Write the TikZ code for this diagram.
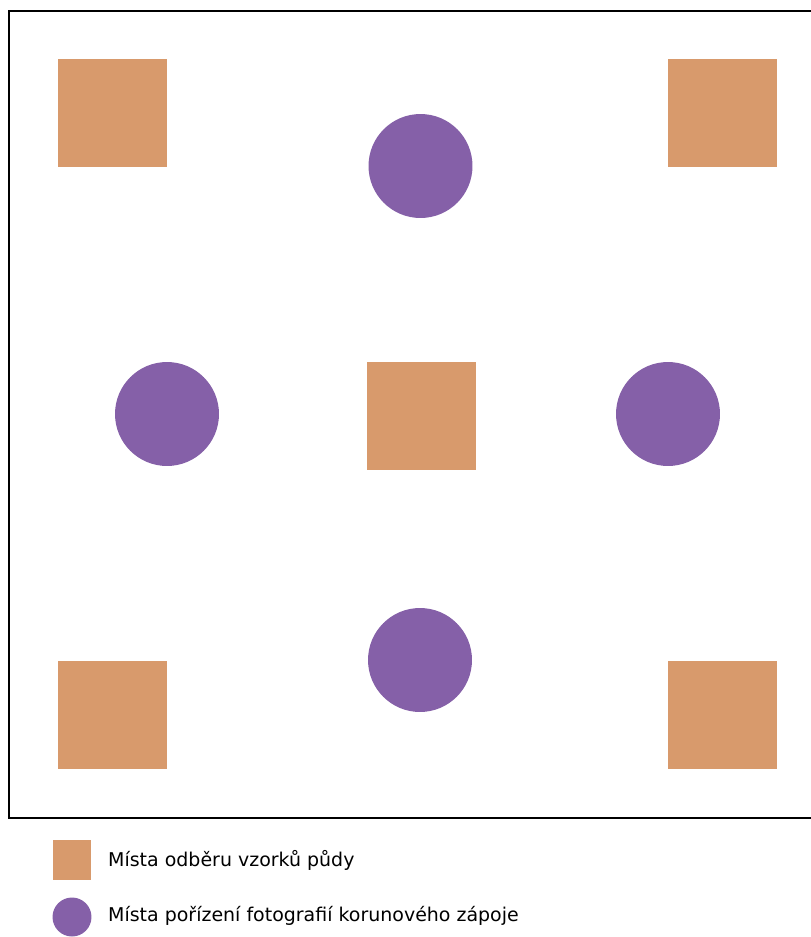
\documentclass[tikz,border=0pt]{standalone}
\usepackage{fontspec}
\setmainfont{DejaVu Sans}
\usepackage{xcolor}
\usetikzlibrary{positioning}

\definecolor{soilorange}{RGB}{216,154,108}
\definecolor{photopurple}{RGB}{133,96,168}

\begin{document}
\begin{tikzpicture}[x=0.02cm, y=-0.02cm, font=\fontsize{10.8}{13}\selectfont,
  soil/.style={rectangle, fill=soilorange, minimum size=2.18cm, inner sep=0pt},
  photo/.style={circle, fill=photopurple, minimum size=2.08cm, inner sep=0pt}]
\useasboundingbox (0,0) rectangle (811,937);

% plot boundary (right side runs off the page)
\draw[line width=0.055cm] (820,11) -- (9,11) -- (9,818) -- (820,818);

% soil sampling points
\node[soil] (s1) at (112.5,113) {};
\node[soil] (s2) at (722.5,113) {};
\node[soil] (s3) at (421.5,416) {};
\node[soil] (s4) at (112.5,715) {};
\node[soil] (s5) at (722.5,715) {};

% canopy photo points
\node[photo] (p1) at (420.5,166) {};
\node[photo] (p2) at (167,414) {};
\node[photo] (p3) at (668,414) {};
\node[photo] (p4) at (420,660) {};

% legend
\node[soil, minimum width=0.76cm, minimum height=0.8cm] (lsoil) at (72,860) {};
\node[photo, minimum size=0.78cm] (lphoto) at (72,917) {};
\node[anchor=west] (tsoil) at (102,860) {Místa odběru vzorků půdy};
\node[anchor=west] (tphoto) at (102,916) {Místa pořízení fotografií korunového zápoje};
\end{tikzpicture}
\end{document}
